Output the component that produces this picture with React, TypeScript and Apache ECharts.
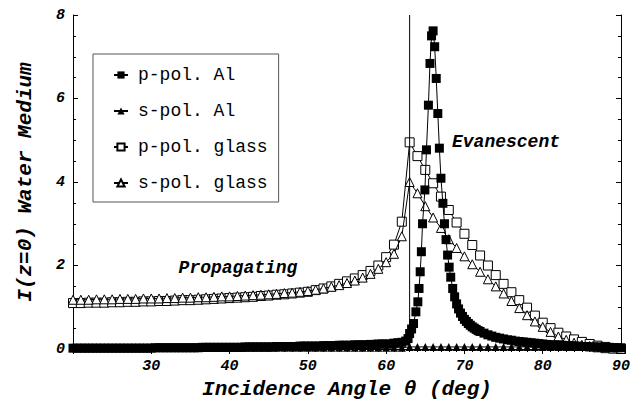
import React, { useEffect, useRef } from "react";
import * as echarts from "echarts";

// ---- data ----
const glassAngles = [
  20, 21, 22, 23, 24, 25, 26, 27, 28, 29, 30, 31, 32, 33, 34, 35, 36, 37, 38, 39,
  40, 41, 42, 43, 44, 45, 46, 47, 48, 49, 50, 51, 52, 53, 54, 55, 56, 57, 58, 59,
  60, 61, 62, 63, 64, 65, 66, 67, 68, 69, 70, 71, 72, 73, 74, 75, 76, 77, 78, 79,
  80, 81, 82, 83, 84, 85, 86, 87, 88, 89, 90,
];
const pGlassValues = [
  1.10, 1.10, 1.11, 1.11, 1.11, 1.12, 1.12, 1.13, 1.13, 1.14, 1.14, 1.15, 1.15, 1.16, 1.17, 1.17, 1.18, 1.19, 1.20, 1.21,
  1.22, 1.23, 1.24, 1.25, 1.27, 1.28, 1.30, 1.31, 1.33, 1.35, 1.37, 1.41, 1.45, 1.50, 1.56, 1.62, 1.69, 1.77, 1.87, 2.00,
  2.20, 2.50, 3.05, 4.95, 4.62, 4.29, 3.97, 3.65, 3.33, 3.03, 2.76, 2.49, 2.24, 2.00, 1.77, 1.56, 1.36, 1.17, 0.99, 0.80,
  0.63, 0.50, 0.39, 0.30, 0.23, 0.17, 0.12, 0.08, 0.05, 0.02, 0.00,
];
const sGlassValues = [
  1.18, 1.18, 1.18, 1.19, 1.19, 1.19, 1.20, 1.20, 1.20, 1.21, 1.21, 1.21, 1.22, 1.22, 1.23, 1.23, 1.24, 1.24, 1.25, 1.26,
  1.26, 1.27, 1.28, 1.29, 1.30, 1.31, 1.32, 1.34, 1.35, 1.37, 1.39, 1.42, 1.45, 1.49, 1.53, 1.58, 1.64, 1.71, 1.80, 1.92,
  2.08, 2.28, 2.70, 4.00, 3.73, 3.42, 3.15, 2.90, 2.63, 2.42, 2.22, 2.03, 1.85, 1.67, 1.50, 1.33, 1.15, 0.98, 0.81, 0.66,
  0.53, 0.41, 0.30, 0.22, 0.15, 0.10, 0.07, 0.04, 0.02, 0.01, 0.00,
];

const pAlAngles = [
  20, 20.5, 21, 21.5, 22, 22.5, 23, 23.5, 24, 24.5, 25, 25.5, 26, 26.5, 27, 27.5, 28, 28.5, 29, 29.5,
  30, 30.5, 31, 31.5, 32, 32.5, 33, 33.5, 34, 34.5, 35, 35.5, 36, 36.5, 37, 37.5, 38, 38.5, 39, 39.5,
  40, 40.5, 41, 41.5, 42, 42.5, 43, 43.5, 44, 44.5, 45, 45.5, 46, 46.5, 47, 47.5, 48, 48.5, 49, 49.5,
  50, 50.5, 51, 51.5, 52, 52.5, 53, 53.5, 54, 54.5, 55, 55.5, 56, 56.5, 57, 57.5, 58, 58.5, 59, 59.5,
  60, 60.5, 61, 61.5, 62, 62.5, 62.8, 63.0, 63.25, 63.5, 63.8, 64.05, 64.2, 64.35, 64.5, 64.65, 64.95,
  65.15, 65.4, 65.6, 65.8, 66.0, 66.2, 66.4, 66.6, 66.8, 67.0, 67.25, 67.45, 67.65, 67.85,
  68.05, 68.25, 68.5, 68.75, 69.0, 69.25, 69.5, 69.75, 70.0, 70.25, 70.5, 70.75, 71.0, 71.25,
  71.5, 71.75, 72.0, 72.5, 73.0, 73.5, 74.0, 74.5, 75.0, 75.5, 76.0, 76.5, 77.0, 77.5,
  78.0, 78.5, 79.0, 79.5, 80.0, 80.5, 81.0, 81.5, 82.0, 82.5, 83.0, 83.5, 84.0, 84.5,
  85.0, 85.5, 86.0, 86.5, 87.0, 87.5, 88.0, 88.5, 89.0, 89.5, 90.0,
];
const pAlValues = [
  0.02, 0.02, 0.02, 0.02, 0.02, 0.02, 0.02, 0.02, 0.02, 0.02, 0.02, 0.02, 0.02, 0.02, 0.02, 0.02, 0.02, 0.02, 0.02, 0.02,
  0.02, 0.03, 0.03, 0.03, 0.03, 0.03, 0.03, 0.03, 0.03, 0.03, 0.03, 0.03, 0.03, 0.04, 0.04, 0.04, 0.04, 0.04, 0.04, 0.04,
  0.04, 0.04, 0.04, 0.04, 0.05, 0.05, 0.05, 0.05, 0.05, 0.05, 0.05, 0.05, 0.06, 0.06, 0.06, 0.06, 0.06, 0.06, 0.07, 0.07,
  0.07, 0.07, 0.07, 0.07, 0.08, 0.08, 0.08, 0.08, 0.09, 0.09, 0.09, 0.09, 0.10, 0.10, 0.10, 0.10, 0.11, 0.11, 0.12, 0.12,
  0.12, 0.12, 0.14, 0.15, 0.16, 0.19, 0.25, 0.37, 0.48, 0.61, 0.89, 1.13, 1.45, 1.85, 2.33, 3.00, 3.81,
  4.77, 5.84, 6.84, 7.50, 7.62, 7.24, 6.48, 5.64, 4.81, 4.09, 3.49, 3.00, 2.62, 2.25,
  1.96, 1.72, 1.45, 1.25, 1.08, 0.96, 0.86, 0.78, 0.71, 0.66, 0.61, 0.57, 0.53, 0.50,
  0.47, 0.44, 0.42, 0.38, 0.34, 0.31, 0.28, 0.26, 0.24, 0.22, 0.21, 0.19, 0.18, 0.17,
  0.16, 0.15, 0.14, 0.13, 0.12, 0.11, 0.10, 0.10, 0.09, 0.09, 0.08, 0.08, 0.07, 0.07,
  0.06, 0.06, 0.05, 0.05, 0.05, 0.04, 0.04, 0.04, 0.03, 0.03, 0.03,
];

const sAlAngles = glassAngles;
const sAlValues = [
  0.03, 0.03, 0.03, 0.03, 0.03, 0.03, 0.03, 0.03, 0.03, 0.03, 0.03, 0.03, 0.03, 0.03, 0.03, 0.03, 0.03, 0.03, 0.03, 0.03,
  0.03, 0.03, 0.03, 0.03, 0.03, 0.03, 0.03, 0.03, 0.03, 0.03, 0.03, 0.03, 0.03, 0.03, 0.03, 0.03, 0.03, 0.03, 0.03, 0.03,
  0.03, 0.03, 0.03, 0.05, 0.05, 0.05, 0.05, 0.05, 0.05, 0.05, 0.05, 0.05, 0.05, 0.05, 0.05, 0.05, 0.05, 0.05, 0.05, 0.05,
  0.05, 0.05, 0.05, 0.05, 0.05, 0.05, 0.05, 0.05, 0.05, 0.05, 0.05,
];

const criticalAngle = 63;
const xTickLabels = ["", "30", "40", "50", "60", "70", "80", "90"];
const seriesNames = ["p-pol. Al", "s-pol. Al", "p-pol. glass", "s-pol. glass"];

const FONT = "'Liberation Mono', 'Courier New', monospace";

const zip = (xs: number[], ys: number[]) => xs.map((x, i) => [x, ys[i]]);

export default function App() {
  const ref = useRef<HTMLDivElement>(null);
  useEffect(() => {
    if (!ref.current) return;
    const chart = echarts.init(ref.current, null, { renderer: "svg" });
    const axisLine = { show: true, lineStyle: { color: "#000", width: 1 } };
    const tickLabel = {
      color: "#000",
      fontFamily: FONT,
      fontStyle: "italic",
      fontWeight: "bold",
      fontSize: 15,
    };
    const lineBase = {
      type: "line",
      silent: true,
      emphasis: { disabled: true },
      lineStyle: { color: "#000", width: 1 },
      symbolSize: 9,
      showAllSymbol: true,
    };
    chart.setOption({
      animation: false,
      grid: { left: 73, right: 21, top: 15, bottom: 58 },
      legend: {
        data: seriesNames,
        orient: "vertical",
        left: 93,
        top: 54,
        padding: [12, 11, 10, 20],
        itemGap: 18,
        itemWidth: 14,
        itemHeight: 9,
        borderColor: "#555",
        borderWidth: 1,
        selectedMode: false,
        textStyle: {
          fontFamily: FONT,
          fontSize: 18,
          lineHeight: 18,
          color: "#000",
          padding: [0, 0, 0, 5],
        },
      },
      xAxis: [
        {
          type: "value",
          min: 20,
          max: 90,
          interval: 10,
          axisLine,
          splitLine: { show: false },
          axisTick: { show: true, inside: true, length: 5, lineStyle: { color: "#000" } },
          minorTick: { show: true, splitNumber: 10, length: 3, lineStyle: { color: "#000" } },
          axisLabel: {
            ...tickLabel,
            margin: 10,
            formatter: (v: number) => xTickLabels[Math.round((v - 20) / 10)] ?? "",
          },
          name: "Incidence Angle θ (deg)",
          nameLocation: "middle",
          nameGap: 26,
          nameTextStyle: {
            color: "#000",
            fontFamily: FONT,
            fontStyle: "italic",
            fontWeight: "bold",
            fontSize: 21,
          },
        },
        {
          type: "value",
          position: "top",
          min: 20,
          max: 90,
          interval: 10,
          axisLine,
          splitLine: { show: false },
          axisTick: { show: true, inside: true, length: 5, lineStyle: { color: "#000" } },
          minorTick: { show: true, splitNumber: 10, length: 3, lineStyle: { color: "#000" } },
          axisLabel: { show: false },
        },
      ],
      yAxis: [
        {
          type: "value",
          min: 0,
          max: 8,
          interval: 2,
          axisLine,
          splitLine: { show: false },
          axisTick: { show: true, inside: true, length: 5, lineStyle: { color: "#000" } },
          minorTick: { show: true, splitNumber: 4, length: 3, lineStyle: { color: "#000" } },
          axisLabel: { ...tickLabel, margin: 8 },
          name: "I(z=0) Water Medium",
          nameLocation: "middle",
          nameRotate: 90,
          nameGap: 37,
          nameTextStyle: {
            color: "#000",
            fontFamily: FONT,
            fontStyle: "italic",
            fontWeight: "bold",
            fontSize: 21,
          },
        },
        {
          type: "value",
          position: "right",
          min: 0,
          max: 8,
          interval: 2,
          axisLine,
          splitLine: { show: false },
          axisTick: { show: true, inside: true, length: 5, lineStyle: { color: "#000" } },
          minorTick: { show: true, splitNumber: 4, length: 3, lineStyle: { color: "#000" } },
          axisLabel: { show: false },
        },
      ],
      graphic: [
        {
          type: "text",
          x: 238,
          y: 268,
          style: {
            text: "Propagating",
            fontFamily: FONT,
            fontStyle: "italic",
            fontWeight: "bold",
            fontSize: 18,
            fill: "#000",
            align: "center",
            verticalAlign: "middle",
          },
        },
        {
          type: "text",
          x: 452,
          y: 142,
          style: {
            text: "Evanescent",
            fontFamily: FONT,
            fontStyle: "italic",
            fontWeight: "bold",
            fontSize: 18,
            fill: "#000",
            align: "left",
            verticalAlign: "middle",
          },
        },
      ],
      series: [
        {
          ...lineBase,
          name: "p-pol. glass",
          symbol: "rect",
          itemStyle: { color: "#fff", borderColor: "#000", borderWidth: 1 },
          data: zip(glassAngles, pGlassValues),
          z: 2,
        },
        {
          ...lineBase,
          name: "s-pol. glass",
          symbol: "triangle",
          symbolSize: 9,
          itemStyle: { color: "#fff", borderColor: "#000", borderWidth: 1 },
          data: zip(glassAngles, sGlassValues),
          z: 3,
        },
        {
          ...lineBase,
          name: "s-pol. Al",
          symbol: "triangle",
          symbolSize: 8,
          itemStyle: { color: "#000", borderColor: "#000", borderWidth: 0 },
          data: zip(sAlAngles, sAlValues),
          z: 4,
        },
        {
          ...lineBase,
          name: "p-pol. Al",
          symbol: "rect",
          symbolSize: 9,
          itemStyle: { color: "#000", borderColor: "#000", borderWidth: 0 },
          data: zip(pAlAngles, pAlValues),
          z: 5,
        },
        {
          type: "line",
          name: "critical",
          silent: true,
          showSymbol: false,
          symbol: "none",
          lineStyle: { color: "#000", width: 1 },
          data: [
            [criticalAngle, 0],
            [criticalAngle, 8],
          ],
          z: 6,
        },
      ],
    });
    return () => chart.dispose();
  }, []);
  return (
    <div
      ref={ref}
      style={{ position: "fixed", left: 0, top: 0, width: 642, height: 407, background: "#fff" }}
    />
  );
}
